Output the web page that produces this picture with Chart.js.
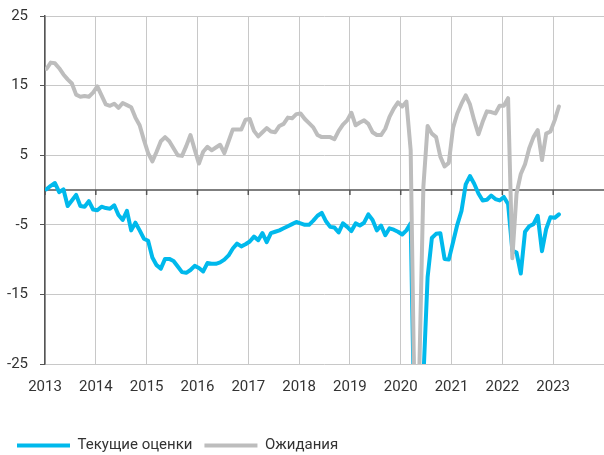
<!DOCTYPE html>
<html>
<head>
<meta charset="utf-8">
<script src="https://cdn.jsdelivr.net/npm/chart.js@4.4.0/dist/chart.umd.min.js"></script>
<style>
  html, body { margin: 0; padding: 0; background: #fff; }
  #wrap { width: 604px; height: 455px; position: relative; }
</style>
</head>
<body>
<div id="wrap"><canvas id="chart"></canvas></div>
<script>
// monthly series, Jan 2013 .. Feb 2023
const startYear = 2013;
const yearTicks = [2013, 2014, 2015, 2016, 2017, 2018, 2019, 2020, 2021, 2022, 2023];
const yTicks = [-25, -15, -5, 5, 15, 25];
const seriesNames = ['Текущие оценки', 'Ожидания'];

const current = [
  0.1, 0.6, 1.0, -0.3, 0.1, -2.3, -1.5, -0.7, -2.3, -2.4, -1.6, -2.8,
  -2.9, -2.4, -2.6, -2.7, -2.2, -3.6, -4.3, -3.0, -5.8, -4.7, -5.8, -7.0,
  -7.3, -9.7, -10.8, -11.3, -9.9, -9.9, -10.2, -11.0, -11.8, -11.9, -11.5, -10.9,
  -11.2, -11.7, -10.5, -10.6, -10.6, -10.4, -10.0, -9.4, -8.4, -7.7, -8.1, -7.8,
  -7.4, -6.7, -7.2, -6.2, -7.5, -6.2, -6.0, -5.8, -5.5, -5.2, -4.9, -4.6,
  -4.8, -5.0, -5.0, -4.4, -3.7, -3.3, -4.5, -5.3, -5.4, -6.1, -4.8, -5.3,
  -5.9, -4.8, -5.1, -4.7, -3.5, -4.3, -5.8, -5.1, -6.5, -5.5, -5.7, -6.0,
  -6.4, -5.8, -4.8, -38, -36, -27, -12.5, -6.9, -6.3, -6.2, -9.9, -10.0,
  -7.5, -5.0, -3.0, 0.8, 2.0, 0.9, -0.5, -1.5, -1.4, -0.8, -1.3, -1.5,
  -1.0, -2.0, -8.7, -9.0, -12.0, -6.0, -5.2, -4.9, -3.7, -8.8, -5.6, -3.9,
  -4.0, -3.5
];

const expected = [
  17.4, 18.3, 18.2, 17.5, 16.6, 15.9, 15.3, 13.7, 13.4, 13.5, 13.4, 14.0,
  14.9, 13.6, 12.3, 12.1, 12.4, 11.8, 12.5, 12.2, 11.9, 10.4, 9.3, 7.2,
  5.3, 4.1, 5.5, 7.0, 7.6, 7.0, 6.0, 5.0, 4.9, 6.3, 7.9, 5.8,
  3.8, 5.5, 6.2, 5.7, 6.1, 6.5, 5.3, 7.0, 8.7, 8.7, 8.7, 10.1,
  10.2, 8.5, 7.7, 8.3, 8.9, 8.4, 8.3, 9.2, 9.5, 10.4, 10.3, 10.9,
  11.0, 10.2, 9.6, 9.0, 7.9, 7.6, 7.6, 7.6, 7.3, 8.5, 9.4, 10.0,
  11.1, 9.3, 9.7, 10.0, 9.5, 8.3, 7.9, 7.9, 8.8, 10.5, 11.7, 12.6,
  12.0, 12.7, 5.7, -35, -27, 0.5, 9.2, 8.1, 7.6, 4.8, 3.4, 3.9,
  8.9, 11.0, 12.4, 13.6, 12.3, 10.0, 8.0, 9.8, 11.3, 11.2, 11.0, 12.1,
  12.1, 13.2, -9.8, -0.5, 2.3, 3.7, 6.0, 7.6, 8.6, 4.3, 8.1, 8.4,
  10.0, 12.0
];

const colors = ['#00b9ec', '#bdbdbd'];
const axisColor = '#555';
const gridColor = '#c8c8c8';
const textColor = '#333';

// month index -> fractional year (points sit a bit after the month start)
const toPoints = arr => arr.map((v, i) => ({ x: startYear + (i + 0.35) / 12, y: v }));

// dark zero line with small year ticks below it
const zeroLine = {
    id: 'zeroLine',
    beforeDatasetsDraw(chart) {
        const { ctx, chartArea, scales } = chart;
        const y0 = scales.y.getPixelForValue(0);
        ctx.save();
        ctx.strokeStyle = axisColor;
        ctx.lineWidth = 1.5;
        ctx.beginPath();
        ctx.moveTo(chartArea.left, y0);
        ctx.lineTo(chartArea.right, y0);
        yearTicks.forEach(yr => {
            const px = scales.x.getPixelForValue(yr);
            ctx.moveTo(px, y0);
            ctx.lineTo(px, y0 + 5);
        });
        ctx.stroke();
        ctx.restore();
    }
};

const ctx = document.getElementById('chart').getContext('2d');
new Chart(ctx, {
    type: 'line',
    data: {
        datasets: [
            {
                label: seriesNames[0],
                data: toPoints(current),
                borderColor: colors[0],
                backgroundColor: colors[0],
                borderWidth: 4,
                pointRadius: 0,
                borderJoinStyle: 'round',
                borderCapStyle: 'round',
                clip: 0,
                order: 1
            },
            {
                label: seriesNames[1],
                data: toPoints(expected),
                borderColor: colors[1],
                backgroundColor: colors[1],
                borderWidth: 4,
                pointRadius: 0,
                borderJoinStyle: 'round',
                borderCapStyle: 'round',
                clip: 0,
                order: 0
            }
        ]
    },
    options: {
        responsive: true,
        maintainAspectRatio: false,
        animation: false,
        layout: { padding: { top: 16, left: 5, right: 0, bottom: -8 } },
        plugins: {
            tooltip: { enabled: false },
            legend: {
                position: 'bottom',
                align: 'start',
                labels: {
                    boxWidth: 53,
                    boxHeight: 4,
                    padding: 12,
                    color: textColor,
                    font: { family: 'Roboto', size: 15 },
                    sort: (a, b) => a.datasetIndex - b.datasetIndex,
                    generateLabels: chart =>
                        Chart.defaults.plugins.legend.labels.generateLabels(chart)
                            .map(l => ({ ...l, lineWidth: 0 }))
                }
            }
        },
        scales: {
            x: {
                type: 'linear',
                min: 2013,
                max: 2024,
                afterBuildTicks: scale => { scale.ticks = yearTicks.map(v => ({ value: v })); },
                afterFit: scale => { scale.height = 62; },
                grid: { color: gridColor, lineWidth: 1, drawTicks: false },
                border: { display: false },
                ticks: {
                    padding: 14,
                    color: textColor,
                    font: { family: 'Roboto', size: 15 },
                    callback: v => String(v)
                }
            },
            y: {
                min: -25,
                max: 25,
                afterBuildTicks: scale => { scale.ticks = yTicks.map(v => ({ value: v })); },
                // fixed width, and no extra top padding from tick label padding
                afterFit: scale => { scale.width = 40; scale.paddingTop = 0; },
                grid: { color: gridColor, lineWidth: 1, tickLength: 5, tickColor: axisColor },
                border: { display: true, color: axisColor, width: 1.5 },
                ticks: {
                    padding: 12,
                    color: textColor,
                    font: { family: 'Roboto', size: 15 }
                }
            }
        }
    },
    plugins: [zeroLine]
});
</script>
</body>
</html>
